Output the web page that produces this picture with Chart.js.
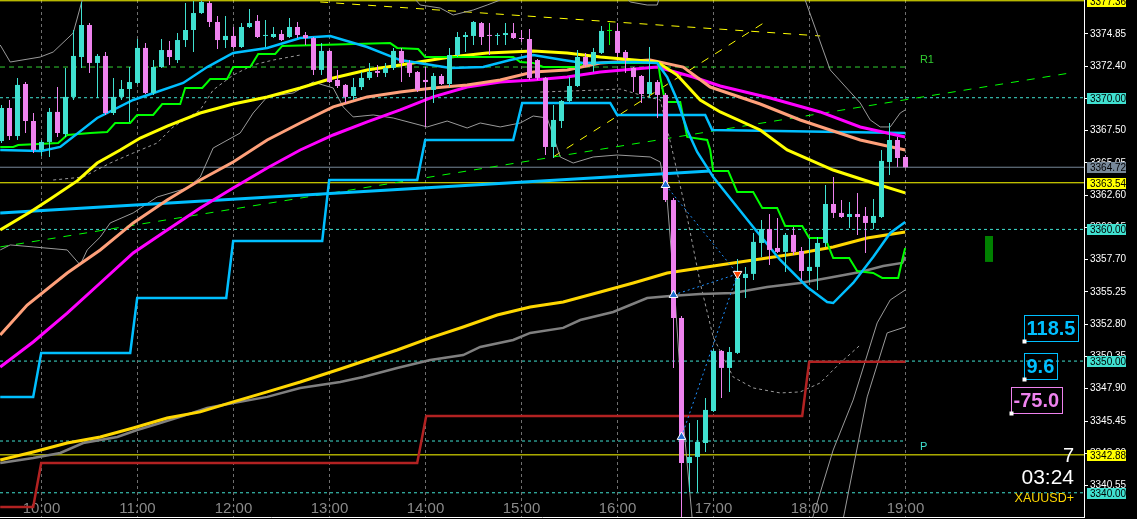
<!DOCTYPE html>
<html><head><meta charset="utf-8">
<script src="https://cdn.jsdelivr.net/npm/chart.js@4.4.1/dist/chart.umd.min.js"></script>
<style>html,body{margin:0;padding:0;background:#000;overflow:hidden}canvas{display:block}</style>
</head><body>
<canvas id="c" width="1137" height="519"></canvas>
<script>
// ---------- DATA (M5 bars, bar 0 = 09:35) ----------
const firstBarTime = '09:35';
const opens = [3366.71,3369.22,3367.09,3371.04,3368.23,3366.03,3366.64,3368.92,3367.24,3370.06,
3373.09,3375.52,3372.64,3373.17,3368.84,3370.06,3370.66,3371.12,3373.78,3370.36,
3372.33,3373.62,3372.86,3374.38,3375.14,3376.43,3377.19,3375.75,3374.38,3374.69,
3373.85,3375.37,3375.83,3374.69,3374.61,3374.84,3374.61,3375.37,3374.76,3374.53,
3372.11,3373.55,3371.35,3370.97,3370.13,3370.81,3371.50,3372.03,3371.88,3372.26,
3373.55,3372.64,3371.95,3371.35,3370.59,3371.65,3371.04,3373.24,3374.61,3374.69,
3375.67,3374.76,3374.69,3374.76,3374.91,3374.53,3374.46,3372.86,3371.50,3366.26,
3368.23,3369.75,3370.89,3373.09,3372.49,3373.40,3375.07,3375.07,3373.47,3372.26,
3371.65,3370.28,3371.19,3370.21,3362.23,3353.27,3342.26,3342.72,3343.78,3346.21,
3350.77,3349.48,3350.62,3356.31,3356.62,3358.97,3360.03,3358.59,3358.29,3359.58,
3358.36,3356.84,3357.15,3358.97,3361.93,3361.25,3360.94,3361.17,3361.02,3360.49,
3360.94,3365.12,3366.79,3365.50];
const highs = [3369.45,3369.83,3371.50,3371.19,3368.84,3366.79,3369.22,3370.81,3372.26,3375.14,
3377.27,3375.67,3373.32,3373.47,3371.50,3371.35,3372.33,3374.46,3374.15,3372.86,
3374.46,3374.31,3374.91,3377.19,3377.34,3377.36,3377.34,3376.21,3376.21,3375.37,
3375.67,3376.74,3376.28,3375.90,3375.37,3375.14,3376.05,3375.75,3374.99,3374.61,
3374.15,3373.62,3372.11,3371.04,3371.50,3371.95,3372.64,3372.49,3372.64,3373.78,
3373.78,3372.86,3372.03,3372.33,3371.88,3371.80,3373.78,3374.99,3374.99,3375.83,
3375.75,3375.67,3374.91,3375.67,3375.67,3375.14,3375.22,3372.94,3371.57,3369.45,
3369.83,3371.57,3373.62,3373.40,3373.78,3375.45,3375.67,3375.67,3373.62,3372.33,
3371.72,3373.85,3371.35,3370.36,3362.39,3353.43,3345.30,3345.53,3347.20,3350.92,
3350.84,3351.07,3357.75,3357.15,3359.73,3360.72,3361.17,3360.87,3359.73,3360.18,
3358.67,3359.35,3359.43,3363.37,3363.98,3362.23,3362.08,3362.77,3361.70,3362.31,
3366.03,3368.08,3367.02,3365.65];
const lows = [3366.56,3366.79,3366.79,3367.32,3365.80,3365.58,3365.50,3367.02,3367.02,3369.83,
3372.26,3371.88,3369.98,3368.69,3368.69,3369.83,3368.16,3371.04,3370.28,3370.21,
3372.26,3372.49,3372.64,3373.85,3373.47,3376.36,3375.37,3373.70,3373.78,3373.78,
3373.78,3375.29,3374.53,3373.85,3374.53,3374.31,3374.53,3374.53,3374.00,3371.72,
3371.72,3371.12,3370.74,3369.60,3369.83,3370.59,3371.35,3371.57,3371.57,3372.11,
3371.19,3371.57,3370.43,3367.78,3369.60,3370.97,3370.81,3373.09,3373.47,3374.00,
3374.00,3373.24,3374.00,3374.00,3374.46,3374.23,3371.35,3371.35,3365.65,3365.42,
3367.70,3369.68,3370.81,3372.33,3371.95,3373.32,3374.00,3373.09,3371.88,3370.43,
3369.60,3369.98,3368.46,3362.08,3349.48,3337.79,3340.06,3340.06,3343.10,3346.14,
3347.20,3347.66,3350.54,3354.79,3356.16,3357.91,3357.30,3358.21,3356.77,3358.06,
3356.16,3356.01,3355.40,3358.67,3360.87,3360.87,3360.11,3359.58,3358.21,3360.03,
3360.87,3364.13,3364.74,3364.70];
const closes = [3369.22,3367.09,3370.97,3368.23,3366.03,3366.64,3368.92,3367.32,3370.06,3373.17,
3375.52,3372.64,3373.17,3368.84,3370.06,3370.66,3371.19,3373.78,3370.36,3372.33,
3373.62,3373.09,3374.38,3375.14,3376.43,3377.27,3375.75,3374.38,3374.69,3373.85,
3375.37,3375.67,3374.61,3374.76,3374.84,3374.38,3375.37,3374.76,3374.53,3372.11,
3373.55,3371.19,3370.89,3370.06,3370.81,3371.50,3371.95,3371.88,3372.26,3373.55,
3372.64,3371.88,3370.59,3371.19,3371.65,3371.04,3373.24,3374.61,3374.76,3375.75,
3374.61,3374.69,3374.76,3374.91,3374.53,3374.46,3371.50,3371.50,3366.26,3368.31,
3369.75,3370.89,3373.09,3372.49,3373.47,3375.07,3375.07,3373.40,3373.02,3371.57,
3370.28,3371.19,3370.21,3362.23,3353.27,3342.26,3342.72,3343.86,3346.29,3350.77,
3349.48,3350.69,3356.31,3356.62,3359.05,3360.03,3358.44,3358.29,3359.58,3358.29,
3356.84,3357.15,3358.97,3361.93,3361.25,3360.94,3361.17,3360.94,3360.49,3361.02,
3365.20,3366.79,3365.42,3364.72];

const hourLabels = ['10:00','11:00','12:00','13:00','14:00','15:00','16:00','17:00','18:00','19:00'];
const hourBars = [5,17,29,41,53,65,77,89,101,113];
const priceTicks = [3374.85,3372.40,3369.95,3367.50,3365.05,3362.60,3360.15,3357.70,3355.25,3352.80,3350.35,3347.90,3345.45,3343.00,3340.55];

// indicator lines (bar position, price)
const maBlueX = [-0.16,4.96,7.34,11.96,16.46,22.71,25.71,28.96,33.21,37.34,41.09,45.71,49.84,56.09,60.21,63.59,66.46,70.21,72.71,78.96,81.96,83.21,84.46,85.71,86.96,88.96,93.96,97.34,100.71,103.21,103.96,106.46,108.96,111.09,112.96];
const maBlueY = [3366.03,3365.95,3366.26,3368.46,3369.83,3371.12,3372.33,3373.40,3373.78,3374.53,3374.69,3373.85,3372.86,3372.26,3372.33,3372.86,3373.24,3372.86,3372.64,3372.71,3372.64,3371.57,3369.83,3367.55,3365.88,3363.98,3360.18,3357.68,3355.63,3354.49,3354.41,3355.93,3357.91,3359.73,3360.56];
const stepGreenX = [-0.16,1.46,2.09,7.09,8.21,11.09,13.21,14.21,16.09,16.96,18.96,20.09,22.34,22.96,25.09,26.09,28.21,28.96,31.09,32.09,34.21,35.09,48.59,49.46,52.09,52.96,63.96,64.84,66.46,67.71,71.96,72.71,81.09,82.09,82.34,82.96,84.84,85.71,88.21,88.59,88.96,90.84,91.96,93.96,95.09,96.96,97.96,100.09,100.96,102.96,103.96,105.96,106.96,108.96,110.09,112.09,112.59,112.96];
const stepGreenY = [3366.26,3366.26,3366.41,3366.56,3367.17,3367.32,3367.40,3368.08,3368.08,3368.69,3368.69,3369.52,3369.52,3370.74,3370.74,3371.42,3371.42,3372.33,3372.33,3373.32,3373.32,3373.93,3374.15,3373.78,3373.70,3373.09,3373.09,3372.71,3372.64,3372.33,3372.33,3372.64,3372.64,3372.64,3371.57,3369.68,3369.68,3367.02,3366.79,3366.03,3364.44,3364.44,3362.84,3362.84,3361.63,3361.63,3360.26,3360.26,3359.35,3359.35,3357.83,3357.83,3356.84,3356.69,3356.31,3356.31,3357.68,3358.59];
const maYellowX = [-0.16,3.59,6.09,9.46,11.96,14.84,17.34,20.71,24.84,28.96,33.21,37.34,41.46,45.71,49.84,56.09,60.71,66.46,70.71,74.84,81.96,84.46,87.34,89.84,94.84,98.21,103.96,108.96,112.96];
const maYellowY = [3359.96,3361.32,3362.31,3363.68,3365.04,3366.03,3366.94,3367.85,3368.84,3369.52,3370.06,3370.74,3371.50,3372.11,3372.49,3373.09,3373.40,3373.55,3373.40,3373.09,3372.71,3371.72,3369.83,3368.92,3367.55,3366.03,3364.51,3363.52,3362.77];
const maSalmonX = [-0.16,3.21,8.21,12.34,16.46,20.71,24.84,28.96,33.21,37.34,41.46,45.71,49.84,53.96,58.21,62.34,66.46,70.71,74.84,81.09,85.21,88.59,94.84,99.84,107.34,112.96];
const maSalmonY = [3351.98,3354.26,3356.69,3358.44,3360.49,3362.23,3363.75,3365.12,3366.79,3368.08,3369.30,3370.06,3370.43,3370.74,3370.97,3371.35,3371.95,3372.11,3372.64,3372.86,3372.33,3370.81,3369.52,3368.31,3366.79,3366.03];
const maMagentaX = [-0.16,3.96,8.21,12.34,16.46,20.71,24.84,28.96,33.21,37.34,41.46,45.71,49.84,53.96,58.21,62.34,66.46,70.71,74.84,81.96,86.46,89.84,96.09,102.34,107.34,112.96];
const maMagentaY = [3349.55,3351.45,3353.65,3355.93,3358.21,3359.96,3361.63,3363.14,3364.66,3366.03,3367.17,3368.16,3369.07,3370.06,3370.81,3371.19,3371.35,3371.57,3371.95,3372.33,3371.57,3370.89,3369.98,3368.92,3367.78,3367.02];
const stepBlueX = [-0.16,3.96,4.96,16.09,16.96,28.09,28.96,40.09,40.96,51.96,52.96,63.96,65.09,76.09,76.96,87.96,88.84,112.96];
const stepBlueY = [3347.28,3347.28,3350.62,3350.62,3354.79,3354.79,3359.12,3359.12,3363.75,3363.75,3366.79,3366.79,3369.60,3369.60,3368.69,3368.69,3367.55,3367.32];
const maGoldX = [-0.16,3.96,8.21,12.34,16.46,20.71,24.84,28.96,33.21,37.34,42.34,49.46,53.59,57.71,61.96,66.09,70.21,74.84,78.96,83.21,87.34,91.46,95.71,99.84,103.96,108.21,112.96];
const maGoldY = [3342.49,3343.10,3343.78,3344.24,3344.92,3345.68,3346.14,3346.90,3347.66,3348.41,3349.40,3350.84,3351.76,3352.59,3353.50,3354.11,3354.49,3355.25,3355.93,3356.69,3357.07,3357.45,3357.83,3358.21,3358.67,3359.35,3359.80];
const stepGrayX = [-0.16,3.96,7.34,10.21,14.46,16.96,19.84,22.34,25.71,28.96,33.21,37.34,42.34,45.21,49.46,53.59,57.71,59.84,63.96,66.09,70.21,72.34,76.46,78.59,80.71,83.59,87.34,91.46,95.71,99.84,103.96,107.34,110.21,112.59,112.96];
const stepGrayY = [3342.26,3342.64,3343.02,3343.78,3344.24,3344.77,3345.30,3345.76,3346.44,3346.82,3347.28,3347.96,3348.41,3348.79,3349.48,3350.08,3350.46,3351.07,3351.60,3352.14,3352.52,3353.12,3353.73,3354.26,3354.79,3354.94,3355.10,3355.17,3355.63,3355.93,3356.39,3356.77,3357.22,3357.45,3357.91];
const stepRedX = [-0.16,3.96,4.96,51.96,53.09,100.09,100.96,112.96];
const stepRedY = [3338.92,3338.92,3342.26,3342.26,3345.83,3345.83,3349.95,3349.95];
const bandUpperX = [-0.16,1.09,4.84,6.46,8.96,10.09,12.34,47.34,52.34,54.84,56.46,58.96,60.71,62.34,64.84,76.09,78.59,80.71,81.96,83.34,98.59,100.46,103.59,107.34,108.59,109.84,111.09,112.34,112.96];
const bandUpperY = [3374.00,3372.71,3373.09,3373.47,3374.91,3377.42,3380.46,3380.46,3377.04,3376.81,3376.28,3376.66,3377.04,3377.42,3378.94,3378.94,3377.27,3377.04,3377.04,3379.70,3379.70,3377.42,3372.11,3369.60,3368.31,3367.78,3367.78,3368.84,3369.07];
const bandLowerX = [-0.16,1.09,3.96,8.21,9.84,10.71,12.34,13.59,16.46,19.46,23.21,24.84,26.46,29.84,31.46,33.21,36.46,38.96,41.46,42.71,43.96,46.46,48.96,53.21,55.71,58.21,59.84,62.34,64.84,66.46,68.21,69.84,71.46,73.96,76.96,81.09,82.34,83.21,84.21,85.21,86.34];
const bandLowerY = [3358.44,3358.82,3358.67,3358.44,3357.30,3358.44,3359.42,3360.49,3361.25,3362.46,3363.14,3363.98,3366.18,3367.32,3368.84,3370.06,3370.36,3371.19,3370.74,3369.30,3368.54,3368.69,3368.46,3367.78,3368.23,3367.70,3368.08,3367.78,3368.08,3368.61,3368.46,3365.50,3365.04,3365.50,3365.65,3365.50,3365.12,3362.23,3354.64,3345.53,3338.01];
const dashLeftX = [6.46,10.21,13.59,16.46,19.46,21.46,24.84,26.46,28.96,31.46,33.96,37.34];
const dashLeftY = [3363.75,3363.98,3365.04,3365.80,3366.56,3367.78,3369.07,3370.59,3371.72,3372.49,3372.86,3373.24];
const dashGrayX = [67.34,74.84,77.34,79.84,82.34,83.84,85.71,87.34,88.96,91.46,93.96,97.34,99.84,102.34,104.84,107.34];
const dashGrayY = [3370.43,3370.59,3370.66,3370.21,3369.83,3366.03,3360.94,3355.93,3351.83,3348.79,3347.96,3347.58,3347.66,3348.34,3349.86,3351.22];
const rise1X = [101.34,103.96,106.46,109.46,111.09,112.96];
const rise1Y = [3338.01,3343.25,3347.05,3352.90,3354.64,3355.40];
const rise2X = [105.21,108.21,110.71,112.96];
const rise2Y = [3338.01,3347.28,3352.14,3352.59];

const trendBlueX = [-0.16,88.59], trendBlueY = [3361.25,3364.44];
const trendGreenX = [-0.16,133.59], trendGreenY = [3358.67,3371.88];
const trendYellowAX = [39.84,102.34], trendYellowAY = [3377.27,3374.69];
const trendYellowBX = [68.96,95.46], trendYellowBY = [3365.50,3375.75];

const yellowLevels = [3377.36,3363.54,3342.88];
const roundLevels = [3370.00,3360.00,3350.00,3340.00];
const bidPrice = 3364.72;
const pivotR1 = 3372.33, pivotP = 3343.93;

const tradeOpenBars = [83,84,85];
const tradeOpenPrices = [3363.37,3355.02,3344.24];
const tradeCloseBar = 92, tradeClosePrice = 3356.62;

const signalBar = 123.44, signalLow = 3357.53, signalHigh = 3359.50;
const infoTexts = ['118.5','9.6','-75.0'];
const infoBars = [127.81,127.81,126.19];
const infoPrices = [3351.53,3348.64,3346.06];
const countText = '7', clockText = '03:24', symbolText = 'XAUUSD+';

// ---------- CHART ----------
const X_MIN = -0.1875, X_MAX = 135.3125, Y_MIN = 3338.16, Y_MAX = 3377.42;
const FONT = '"Liberation Sans", Arial, sans-serif';
const UP = '#40E0D0', DOWN = '#EE82EE', DOJI = '#00FF00';
const pts = (xs, ys) => xs.map((v, i) => ({x: v, y: ys[i]}));
const barIdx = opens.map((_, i) => i);
const candleColor = barIdx.map(i => closes[i] > opens[i] ? UP : (closes[i] < opens[i] ? DOWN : DOJI));

function line(data, color, width, order, dash) {
  return {type: 'line', data, borderColor: color, borderWidth: width, borderDash: dash || [],
    pointRadius: 0, fill: false, tension: 0, order};
}
const hline = (p, color, dash, order, x2) => line([{x: X_MIN, y: p}, {x: x2 === undefined ? X_MAX : x2, y: p}], color, 1, order, dash);

const datasets = [];
datasets.push({type: 'line', data: pts(tradeOpenBars, tradeOpenPrices), showLine: false, pointStyle: 'triangle',
  pointRadius: 5, pointBackgroundColor: '#1F6BD1', pointBorderColor: '#ffffff', pointBorderWidth: 1, order: 1});
datasets.push({type: 'line', data: [{x: tradeCloseBar, y: tradeClosePrice}], showLine: false, pointStyle: 'triangle',
  pointRotation: 180, pointRadius: 5, pointBackgroundColor: '#FF4500', pointBorderColor: '#ffffff', pointBorderWidth: 1, order: 1});
tradeOpenBars.forEach((b, i) => datasets.push(line([{x: b, y: tradeOpenPrices[i]}, {x: tradeCloseBar, y: tradeClosePrice}], '#1E90FF', 1, 2, [2, 3])));
datasets.push({type: 'bar', data: barIdx.map(i => ({x: i, y: [Math.min(opens[i], closes[i]), Math.max(opens[i], closes[i])]})),
  backgroundColor: candleColor, barThickness: 5, minBarLength: 1, grouped: false, inflateAmount: 0, borderWidth: 0, order: 3});
datasets.push({type: 'bar', data: barIdx.map(i => ({x: i, y: [lows[i], highs[i]]})),
  backgroundColor: candleColor, barThickness: 1, grouped: false, inflateAmount: 0, borderWidth: 0, order: 4});
datasets.push({type: 'bar', data: [{x: signalBar, y: [signalLow, signalHigh]}], backgroundColor: '#008000',
  barThickness: 8, grouped: false, inflateAmount: 0, borderWidth: 0, order: 5});
datasets.push(line(pts(maBlueX, maBlueY), '#00BFFF', 2.5, 10));
datasets.push(line(pts(stepGreenX, stepGreenY), '#00FF00', 2, 11));
datasets.push(line(pts(maYellowX, maYellowY), '#FFFF00', 3, 12));
datasets.push(line(pts(maSalmonX, maSalmonY), '#FFA07A', 3, 13));
datasets.push(line(pts(maMagentaX, maMagentaY), '#FF00FF', 3, 14));
datasets.push(line(pts(maGoldX, maGoldY), '#FFD700', 3, 15));
datasets.push(line(pts(stepGrayX, stepGrayY), '#808080', 2.5, 16));
datasets.push(line(pts(stepBlueX, stepBlueY), '#00BFFF', 2.5, 17));
datasets.push(line(pts(stepRedX, stepRedY), '#B22222', 2.5, 18));
datasets.push(line(pts(trendBlueX, trendBlueY), '#00BFFF', 3, 19));
datasets.push(line(pts(bandUpperX, bandUpperY), '#9a9a9a', 1, 30));
datasets.push(line(pts(bandLowerX, bandLowerY), '#9a9a9a', 1, 31));
datasets.push(line(pts(dashGrayX, dashGrayY), '#9a9a9a', 1, 32, [3, 3]));
datasets.push(line(pts(dashLeftX, dashLeftY), '#9a9a9a', 1, 32, [3, 3]));
datasets.push(line(pts(rise1X, rise1Y), '#9a9a9a', 1, 33));
datasets.push(line(pts(rise2X, rise2Y), '#9a9a9a', 1, 34));
datasets.push(line(pts(trendGreenX, trendGreenY), '#00FF00', 1, 40, [8, 8]));
datasets.push(line(pts(trendYellowAX, trendYellowAY), '#FFFF00', 1, 41, [8, 8]));
datasets.push(line(pts(trendYellowBX, trendYellowBY), '#FFFF00', 1, 42, [8, 8]));
yellowLevels.forEach(p => datasets.push(hline(p, '#FFFF00', [], 50)));
roundLevels.forEach(p => datasets.push(hline(p, '#40E0D0', [3, 3], 51)));
datasets.push(hline(bidPrice, '#778899', [], 52));
datasets.push(hline(pivotR1, '#32CD32', [5, 4], 53, 113));
datasets.push(hline(pivotP, '#40E0D0', [3, 3], 54, 113));

const overlay = {
  id: 'overlay',
  beforeDraw(chart) {
    const c = chart.ctx; c.save(); c.fillStyle = '#000'; c.fillRect(0, 0, chart.width, chart.height); c.restore();
  },
  beforeDatasetsDraw(chart) {
    const {ctx, chartArea: a, scales: {x}} = chart;
    ctx.save();
    ctx.font = '15px ' + FONT; ctx.fillStyle = '#8a8a8a'; ctx.textAlign = 'center'; ctx.textBaseline = 'middle';
    hourBars.forEach((b, i) => ctx.fillText(hourLabels[i], x.getPixelForValue(b), a.bottom - 8));
    ctx.restore();
  },
  afterDraw(chart) {
    const {ctx, chartArea: a, scales: {x, y}} = chart;
    ctx.save();
    const tag = (p, fill, fg) => {
      const py = Math.round(y.getPixelForValue(p));
      ctx.fillStyle = fill; ctx.fillRect(a.right + 3, py - 5, 39, 11);
      ctx.fillStyle = fg; ctx.font = '10px ' + FONT; ctx.textAlign = 'left'; ctx.textBaseline = 'middle';
      ctx.fillText(p.toFixed(2), a.right + 6, py + 1);
    };
    roundLevels.forEach(p => tag(p, '#40E0D0', '#000'));
    tag(bidPrice, '#778899', '#000');
    yellowLevels.forEach(p => tag(p, '#FFFF00', '#000'));
    ctx.font = '11px ' + FONT; ctx.textAlign = 'left'; ctx.textBaseline = 'middle';
    ctx.fillStyle = '#32CD32'; ctx.fillText('R1', x.getPixelForValue(114.8), y.getPixelForValue(pivotR1) - 7);
    ctx.fillStyle = '#40E0D0'; ctx.fillText('P', x.getPixelForValue(114.8), y.getPixelForValue(pivotP) + 6);
    const infoColors = ['#00BFFF', '#00BFFF', '#EE82EE'];
    infoTexts.forEach((t, i) => {
      const px = Math.round(x.getPixelForValue(infoBars[i])) + 0.5;
      const py = Math.round(y.getPixelForValue(infoPrices[i])) + 0.5;
      ctx.font = 'bold 20px ' + FONT;
      const w = Math.round(ctx.measureText(t).width) + 5;
      ctx.strokeStyle = infoColors[i]; ctx.lineWidth = 1; ctx.strokeRect(px, py - 26, w, 26);
      ctx.fillStyle = infoColors[i]; ctx.textBaseline = 'middle'; ctx.fillText(t, px + 2, py - 12);
      ctx.fillStyle = '#fff'; ctx.fillRect(px - 2, py - 2, 4, 4);
    });
    ctx.textAlign = 'right'; ctx.textBaseline = 'middle'; ctx.fillStyle = '#fff';
    ctx.font = '20px ' + FONT; ctx.fillText(countText, a.right - 10, a.bottom - 61);
    ctx.font = '21px ' + FONT; ctx.fillText(clockText, a.right - 10, a.bottom - 39);
    ctx.font = '12.5px ' + FONT; ctx.fillStyle = '#FFD700'; ctx.fillText(symbolText, a.right - 10, a.bottom - 18);
    ctx.restore();
  }
};

new Chart(document.getElementById('c'), {
  type: 'bar',
  data: {datasets},
  options: {
    responsive: false, animation: false, devicePixelRatio: 1, events: [],
    layout: {padding: 0, autoPadding: false},
    plugins: {legend: {display: false}, tooltip: {enabled: false}},
    scales: {
      x: {type: 'linear', min: X_MIN, max: X_MAX, offset: false,
        afterBuildTicks: s => { s.ticks = hourBars.map(v => ({value: v})); },
        afterFit: s => { s.height = 2; s.paddingLeft = 0; s.paddingRight = 0; },
        grid: {display: true, drawOnChartArea: true, drawTicks: false, color: '#6f6f6f', lineWidth: 1, offset: false},
        border: {display: true, color: '#ffffff', width: 1, dash: [3, 3]},
        ticks: {display: false}},
      y: {type: 'linear', position: 'right', min: Y_MIN, max: Y_MAX,
        afterBuildTicks: s => { s.ticks = priceTicks.map(v => ({value: v})); },
        afterFit: s => { s.width = 53; s.paddingTop = 0; s.paddingBottom = 0; },
        grid: {drawOnChartArea: false, drawTicks: true, tickLength: 4, color: '#ffffff'},
        border: {display: true, color: '#ffffff', width: 1},
        ticks: {color: '#ffffff', font: {family: FONT, size: 10}, padding: 2, autoSkip: false,
          callback: v => Number(v).toFixed(2)}}
    }
  },
  plugins: [overlay]
});
</script>
</body></html>
